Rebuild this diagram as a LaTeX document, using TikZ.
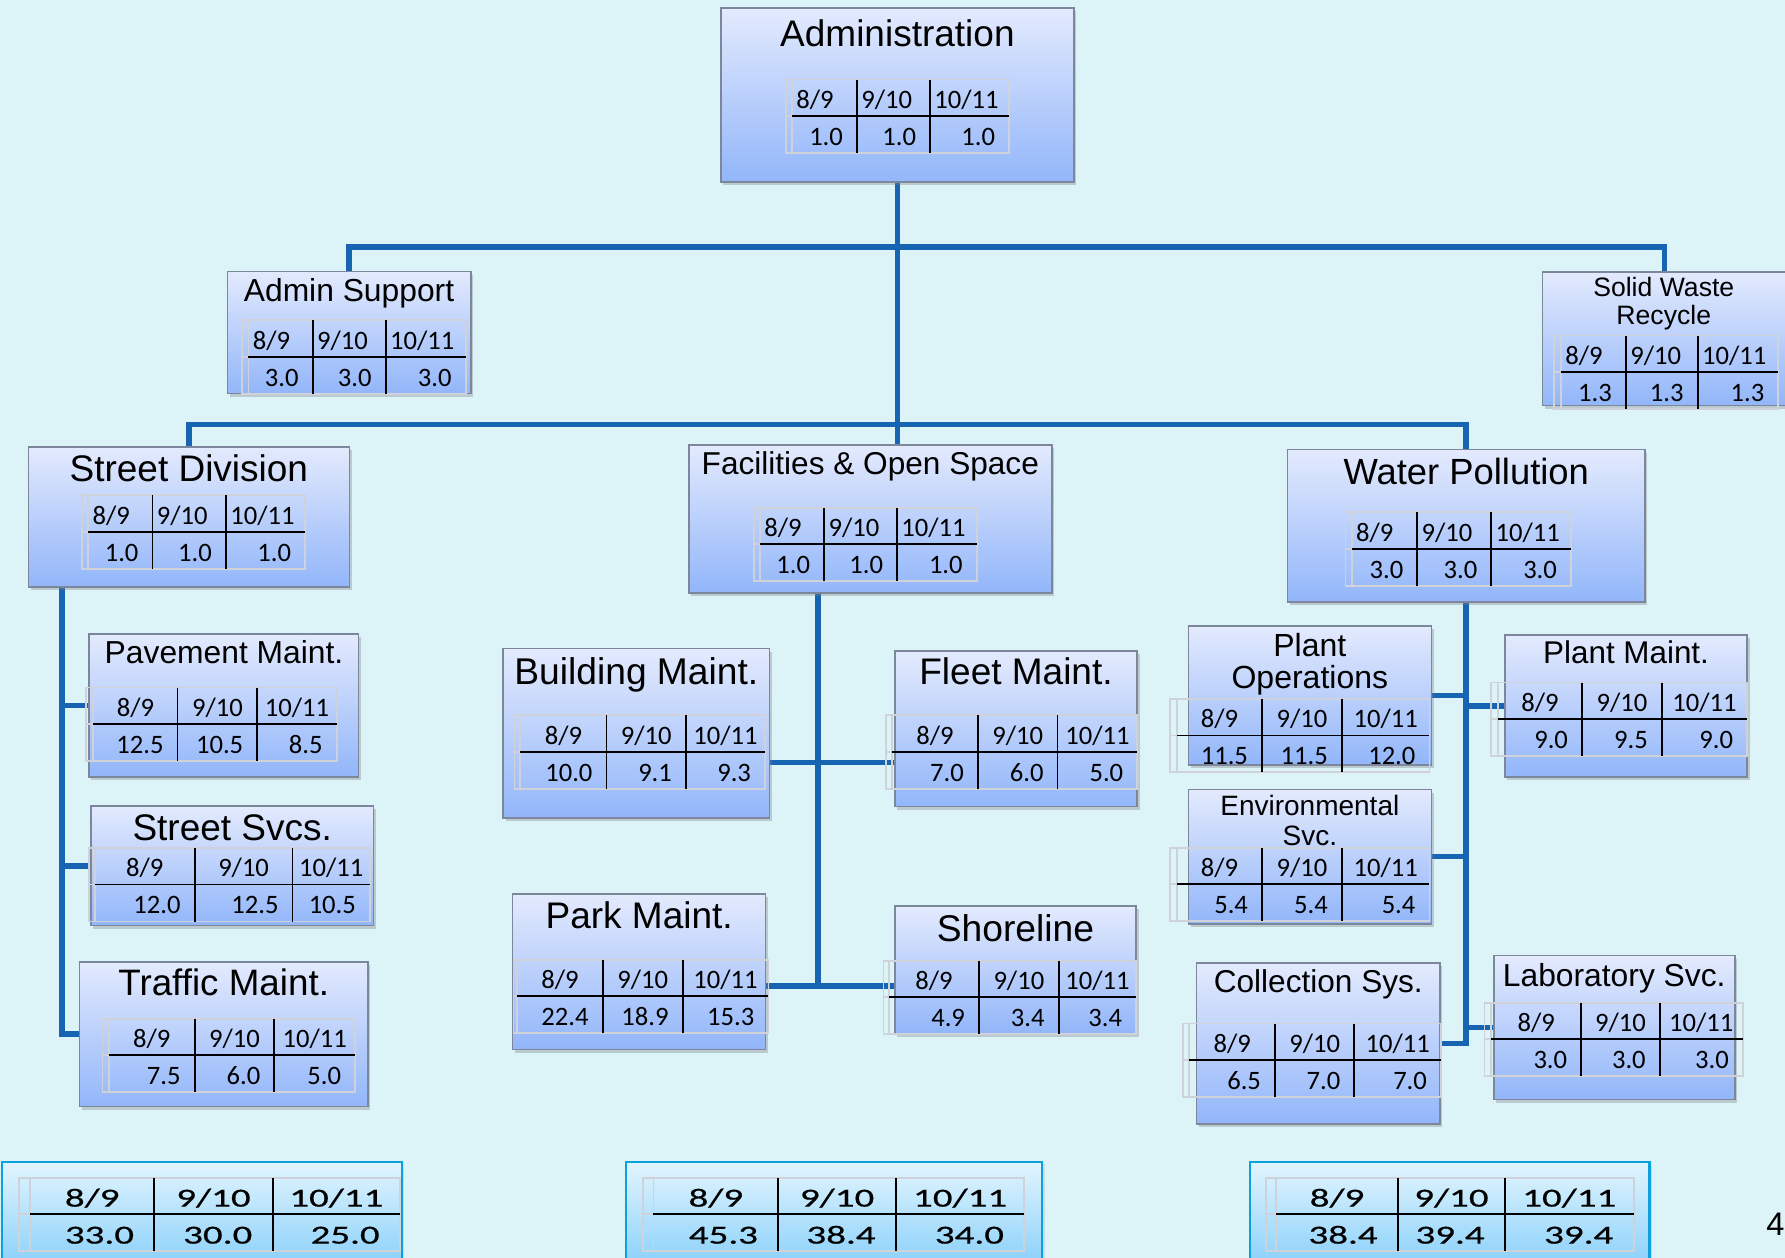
\documentclass[tikz,border=0pt]{standalone}
\usepackage{fontspec}
\setmainfont{Liberation Sans}
\newfontfamily\tabfont{Carlito}
\newfontfamily\widetabfont[FakeStretch=1.5,FakeBold=0.6]{Carlito}
\usetikzlibrary{fit,shadows}

\definecolor{bgc}{RGB}{220,243,248}
\definecolor{linkblue}{RGB}{22,100,178}
\definecolor{boxtop}{RGB}{227,234,253}
\definecolor{boxbot}{RGB}{146,182,250}
\definecolor{boxedge}{RGB}{125,135,155}
\definecolor{sumedge}{RGB}{12,160,220}
\definecolor{sumtop}{RGB}{226,245,254}
\definecolor{sumbot}{RGB}{135,207,250}
\definecolor{cellgray}{RGB}{208,210,218}

\pgfdeclarelayer{paper}
\pgfdeclarelayer{links}
\pgfsetlayers{paper,links,main}

\tikzset{
  unitbox/.style={draw=boxedge, line width=0.8pt, top color=boxtop, bottom color=boxbot,
    inner sep=0pt, outer sep=0pt,
    drop shadow={shadow xshift=1.2pt, shadow yshift=-1.6pt, opacity=0.35}},
  sumbox/.style={draw=sumedge, line width=1.1pt, top color=sumtop, bottom color=sumbot,
    inner sep=0pt, outer sep=0pt,
    drop shadow={shadow xshift=1.2pt, shadow yshift=-1.2pt, opacity=0.2}},
  conn/.style={draw=linkblue, line width=2.8pt},
  cell/.style={font=\tabfont\fontsize{13.3}{14}\selectfont, inner sep=0pt,
    text height=8.4pt, text depth=0pt},
}

% box from corner to corner
\newcommand\orgbox[5]{\node[unitbox, fit={(#2,#3) (#4,#5)}] (#1) {};}
\newcommand\sumbx[5]{\node[sumbox, fit={(#2,#3) (#4,#5)}] (#1) {};}
% title line: name, x, y (cap centre), size, text
\newcommand\ttl[5]{%
  \pgfmathsetmacro\capht{0.716*#4}%
  \node[inner sep=0pt, text depth=0pt, text height=\capht pt,
        font=\fontsize{#4}{#4}\selectfont] (#1) at (#2,#3) {#5};}
% table geometry: left, inner left, divider 1, divider 2, right, row rule
\newcommand\tabgeom[6]{\def\tL{#1}\def\tI{#2}\def\tA{#3}\def\tB{#4}\def\tR{#5}\def\tH{#6}}
\def\tP{12}
\newcommand\tabgrid{%
  \draw[cellgray, line width=0.9pt] (\tL,\tH-32) rectangle (\tR,\tH+32.5)
    (\tI,\tH-32) -- (\tI,\tH+32.5) (\tL,\tH) -- (\tI,\tH);
  \draw[line width=0.9pt] (\tI,\tH) -- (\tR,\tH)
    (\tA,\tH-32) -- (\tA,\tH+32.5) (\tB,\tH-32) -- (\tB,\tH+32.5);}
\newcommand\hdleft[1]{%
  \node[cell, anchor=west] (#1-h1) at (\tI+3.5,\tH-14) {8/9};
  \node[cell, anchor=west] (#1-h2) at (\tA+3.5,\tH-14) {9/10};
  \node[cell, anchor=west] (#1-h3) at (\tB+3.5,\tH-14) {10/11};}
\newcommand\hdmid[1]{%
  \node[cell] (#1-h1) at ({(\tI+\tA)/2},\tH-14) {8/9};
  \node[cell] (#1-h2) at ({(\tA+\tB)/2},\tH-14) {9/10};
  \node[cell] (#1-h3) at ({(\tB+\tR)/2},\tH-14) {10/11};}
\newcommand\vals[4]{%
  \node[cell, anchor=east] (#1-v1) at (\tA-\tP,\tH+18.5) {#2};
  \node[cell, anchor=east] (#1-v2) at (\tB-\tP,\tH+18.5) {#3};
  \node[cell, anchor=east] (#1-v3) at (\tR-\tP,\tH+18.5) {#4};}

\begin{document}
\begin{tikzpicture}[x=0.5692pt, y=-0.5692pt]
\useasboundingbox (0,0) rectangle (1568,1105);
\begin{pgfonlayer}{paper}
\fill[bgc] (0,0) rectangle (1568,1105);
\end{pgfonlayer}
\clip (0,0) rectangle (1568,1105);

% ---------- unit boxes ----------
\orgbox{adm}{633.1}{7}{943.4}{160}
\orgbox{asup}{199.7}{238.6}{413.5}{345.5}
\orgbox{sw}{1355.1}{239.2}{1569}{356.3}
\orgbox{sdiv}{24.9}{392.9}{306.9}{515.4}
\orgbox{fac}{605}{391}{924}{521}
\orgbox{wat}{1131}{395}{1445}{529}
\orgbox{pav}{78}{557}{315}{682.3}
\orgbox{ssv}{80}{708}{328}{813}
\orgbox{trf}{70}{845}{323}{972}
\orgbox{bld}{442.1}{569.5}{676}{718.8}
\orgbox{flt}{786}{571.6}{999}{708.6}
\orgbox{park}{450.3}{785.3}{672.6}{921.8}
\orgbox{shore}{786}{796}{998}{908}
\orgbox{pops}{1043.9}{549.9}{1257.4}{672}
\orgbox{env}{1043.9}{693.4}{1257.4}{811.7}
\orgbox{coll}{1051.2}{845.7}{1265}{987.4}
\orgbox{pmnt}{1322}{557.8}{1534.7}{682.8}
\orgbox{lab}{1312.4}{839.5}{1524}{966}
\sumbx{sumA}{1.5}{1020.5}{353}{1115}
\sumbx{sumB}{549.6}{1020.8}{915.5}{1115}
\sumbx{sumC}{1098}{1021}{1449}{1115}

% ---------- titles ----------
\ttl{adm-t}{788.3}{29.4}{18.5}{Administration}
\ttl{asup-t}{306.6}{254.7}{15.9}{Admin Support}
\ttl{sw-t1}{1461.5}{252.1}{13.3}{Solid Waste}
\ttl{sw-t2}{1461.5}{276.3}{13.3}{Recycle}
\ttl{sdiv-t}{165.9}{411.4}{18.5}{Street Division}
\ttl{fac-t}{764.5}{407}{15.8}{Facilities \& Open Space}
\ttl{wat-t}{1288}{414}{18.2}{Water Pollution}
\ttl{pav-t}{196.8}{572.5}{15.9}{Pavement Maint.}
\ttl{ssv-t}{204}{727}{18.5}{Street Svcs.}
\ttl{trf-t}{196.5}{863}{18.4}{Traffic Maint.}
\ttl{bld-t}{559}{589.3}{18.6}{Building Maint.}
\ttl{flt-t}{892.5}{590}{18.5}{Fleet Maint.}
\ttl{park-t}{561.5}{803.8}{18.5}{Park Maint.}
\ttl{shore-t}{892}{815}{18.6}{Shoreline}
\ttl{pops-t1}{1150.6}{566.6}{16}{Plant}
\ttl{pops-t2}{1150.6}{595.1}{16}{Operations}
\ttl{env-t1}{1150.6}{707.9}{14}{Environmental}
\ttl{env-t2}{1150.6}{733.5}{14}{Svc.}
\ttl{coll-t}{1158}{861.6}{15.8}{Collection Sys.}
\ttl{pmnt-t}{1428.4}{573.2}{15.7}{Plant Maint.}
\ttl{lab-t}{1418}{857}{15.9}{Laboratory Svc.}

% ---------- staffing tables ----------
\tabgeom{690.4}{695.7}{752.8}{817}{886.4}{101.9}\tabgrid\hdleft{adm}\vals{adm}{1.0}{1.0}{1.0}
\tabgeom{212.3}{218.2}{274.7}{338.8}{409}{313.3}\tabgrid\hdleft{asup}\vals{asup}{3.0}{3.0}{3.0}
\tabgeom{1365.4}{1371.2}{1428.3}{1491.3}{1562.1}{326.8}\tabgrid\hdleft{sw}\vals{sw}{1.3}{1.3}{1.3}
\tabgeom{71.7}{77.6}{134}{198.5}{268}{467}\tabgrid\hdleft{sdiv}\vals{sdiv}{1.0}{1.0}{1.0}
\tabgeom{662}{667.5}{724}{788}{858}{478}\tabgrid\hdleft{fac}\vals{fac}{1.0}{1.0}{1.0}
\tabgeom{1182}{1187.5}{1245}{1310}{1380}{482}\tabgrid\hdleft{wat}\vals{wat}{3.0}{3.0}{3.0}
\tabgeom{75.5}{82}{156}{226}{295.7}{636}\tabgrid\hdmid{pav}\vals{pav}{12.5}{10.5}{8.5}
\tabgeom{78}{83.5}{171}{257}{325}{777}\tabgrid\hdmid{ssv}\vals{ssv}{12.0}{12.5}{10.5}
\tabgeom{90}{95.5}{171}{241}{312}{927}\tabgrid\hdmid{trf}\vals{trf}{7.5}{6.0}{5.0}
\tabgeom{452}{457}{532.8}{602.6}{672}{660.3}\tabgrid\hdmid{bld}\vals{bld}{10.0}{9.1}{9.3}
\tabgeom{778.6}{783.6}{859}{929}{999}{660.3}\tabgrid\hdmid{flt}\vals{flt}{7.0}{6.0}{5.0}
\tabgeom{451}{454.4}{529.4}{599.7}{675}{875}\tabgrid\hdmid{park}\vals{park}{22.4}{18.9}{15.3}
\tabgeom{776}{781}{860}{930}{998}{876}\tabgrid\hdmid{shore}\vals{shore}{4.9}{3.4}{3.4}
\tabgeom{1028}{1034}{1108.6}{1178.7}{1255.7}{646}\tabgrid\hdmid{pops}\vals{pops}{11.5}{11.5}{12.0}
\tabgeom{1028}{1034}{1108.6}{1178.7}{1255.7}{776.6}\tabgrid\hdmid{env}\vals{env}{5.4}{5.4}{5.4}
\tabgeom{1038.9}{1044.7}{1120}{1189.7}{1265.8}{931.1}\tabgrid\hdmid{coll}\vals{coll}{6.5}{7.0}{7.0}
\tabgeom{1309.5}{1316}{1389.7}{1459.8}{1534.7}{631.6}\tabgrid\hdmid{pmnt}\vals{pmnt}{9.0}{9.5}{9.0}
\tabgeom{1304}{1310}{1389}{1458}{1531}{913}\tabgrid\hdmid{lab}\vals{lab}{3.0}{3.0}{3.0}

% ---------- division totals ----------
\begin{scope}[cell/.style={font=\widetabfont\fontsize{13}{14}\selectfont, inner sep=0pt,
    text height=8.2pt, text depth=0pt}]
\def\tP{17.5}
\tabgeom{16.7}{26.4}{135.6}{239.5}{351.4}{1066.7}\tabgrid\hdmid{sumA}\vals{sumA}{33.0}{30.0}{25.0}
\tabgeom{564.5}{574}{683.7}{787}{899.8}{1066.7}\tabgrid\hdmid{sumB}\vals{sumB}{45.3}{38.4}{34.0}
\tabgeom{1112}{1121}{1228}{1322}{1435}{1066.7}\tabgrid\hdmid{sumC}\vals{sumC}{38.4}{39.4}{39.4}
\end{scope}

\node[inner sep=0pt, anchor=west, text height=11.7pt, text depth=0pt,
      font=\fontsize{16.3}{17}\selectfont] (page) at (1551.3,1074.6) {4};

% ---------- reporting lines ----------
\begin{pgfonlayer}{links}
\coordinate (busA) at (0,217);
\coordinate (busB) at (0,373);
\coordinate (sx) at (54.5,515.4);
\coordinate (fx) at (718.8,521);
\coordinate (fyA) at (0,669.7);
\coordinate (fyB) at (0,866);
\draw[conn] (adm.south) -- (adm.south |- fac.north);
\draw[conn] (asup.north) -- (asup.north |- busA) -- (sw.north |- busA) -- (sw.north);
\draw[conn] (sdiv.north) -- (sdiv.north |- busB) -- (wat.north |- busB) -- (wat.north);
\draw[conn] (sx) |- (trf.west);
\draw[conn] (sx |- pav.west) -- (pav.west);
\draw[conn] (sx |- ssv.west) -- (ssv.west);
\draw[conn] (fx) -- (fx |- fyB);
\draw[conn] (bld.east |- fyA) -- (flt.west |- fyA);
\draw[conn] (park.east |- fyB) -- (shore.west |- fyB);
\draw[conn] (wat.south) |- (coll.east);
\draw[conn] (pops.east) -- (pops.east -| wat.south);
\draw[conn] (env.east) -- (env.east -| wat.south);
\draw[conn] (pmnt.west) -- (pmnt.west -| wat.south);
\draw[conn] (lab.west) -- (lab.west -| wat.south);
\end{pgfonlayer}
\end{tikzpicture}
\end{document}
